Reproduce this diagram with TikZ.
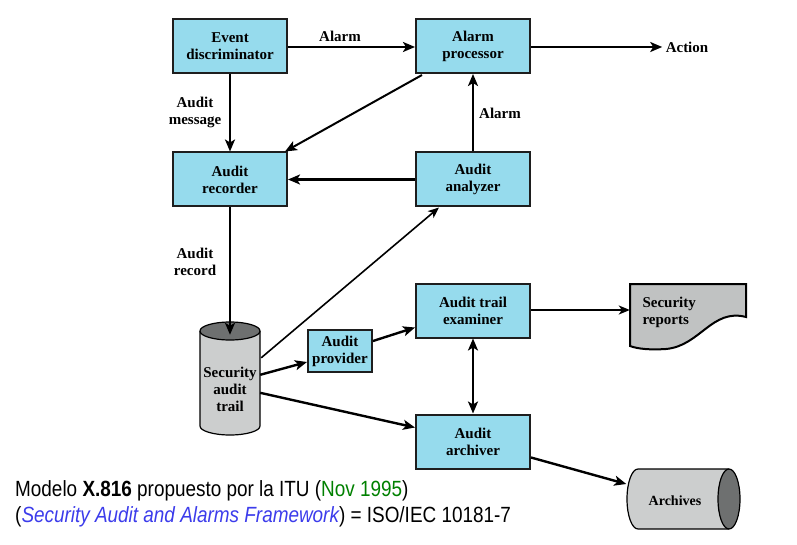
\documentclass[tikz,border=0pt]{standalone}
\usepackage{fontspec}
\setmainfont{Liberation Serif}
\newfontfamily\arialn[FakeStretch=0.86]{Liberation Sans}
\usetikzlibrary{arrows.meta,calc}
\definecolor{boxblue}{RGB}{150,219,237}
\definecolor{bordc}{RGB}{30,30,30}
\definecolor{cylgray}{RGB}{204,206,206}
\definecolor{cyldark}{RGB}{110,112,112}
\definecolor{repgray}{RGB}{192,194,194}
\definecolor{itugreen}{RGB}{0,128,0}
\definecolor{itublue}{RGB}{60,60,235}
\tikzset{
  box/.style={draw=bordc, line width=2pt, fill=boxblue, align=center,
    minimum width=114, minimum height=54, inner sep=1pt,
    font=\fontsize{15}{17}\selectfont\bfseries},
  lbl/.style={align=center, font=\fontsize{15}{17}\selectfont\bfseries},
  arr/.style={line width=2.4pt, -{Stealth[length=12pt,width=10pt,inset=3pt]}},
  tarr/.style={line width=1.6pt, -{Stealth[length=11pt,width=9pt,inset=3pt]}},
  darr/.style={line width=2.4pt, {Stealth[length=12pt,width=10pt,inset=3pt]}-{Stealth[length=12pt,width=10pt,inset=3pt]}},
}
\begin{document}
\begin{tikzpicture}[x=1pt,y=-1pt]
\useasboundingbox (0,0) rectangle (797,545);

% boxes
\node[box] (ed) at (230,46) {Event\\discriminator};
\node[box] (ap) at (473,46) {Alarm\\processor};
\node[box] (rec) at (230,179.5) {Audit\\recorder};
\node[box] (an) at (473,179.5) {Audit\\analyzer};
\node[box] (ex) at (473,310.5) {Audit trail\\examiner};
\node[box] (arc) at (473,441.5) {Audit\\archiver};
\node[box, minimum width=64, minimum height=42] (prov) at (340,351) {Audit\\provider};

% security audit trail cylinder
\draw[line width=1.2pt, fill=cylgray] (200,331) -- (200,426) arc[start angle=180, end angle=0, x radius=30, y radius=9] -- (260,331);
\draw[line width=1.2pt, fill=cyldark] (230,331) ellipse[x radius=30, y radius=9];
\node[minimum width=60, minimum height=104, inner sep=0pt] (trail) at (230,383) {};
\node[lbl] at (230,389) {Security\\audit\\trail};

% archives cylinder
\draw[line width=1.2pt, fill=cylgray] (729,469) -- (638,469) arc[start angle=270, end angle=90, x radius=11, y radius=30] -- (729,529);
\draw[line width=1.2pt, fill=cyldark] (729,499) ellipse[x radius=11, y radius=30];
\node[minimum width=113, minimum height=60, inner sep=0pt] (arch) at (683,499) {};
\node[font=\fontsize{14}{16}\selectfont\bfseries] at (675,501) {Archives};

% security reports
\draw[line width=2pt, fill=repgray] (630,284) -- (746,284) -- (746,317)
  .. controls (712,308) and (700,346) .. (666,349)
  .. controls (650,350) and (638,349) .. (630,346) -- cycle;
\node[minimum width=116, minimum height=66, inner sep=0pt] (rep) at (688,317) {};
\node[lbl, align=left, anchor=west] at (639,312) {Security\\reports};

% action
\node[lbl] (act) at (687,47) {Action};

% connectors
\draw[arr] (ed.east |- 0,47) -- (ap.west |- 0,47);
\node[lbl] at (340,36) {Alarm};
\draw[arr] (ap.east |- 0,47) -- (act.west);
\draw[arr] (ed.south) -- (rec.north);
\node[lbl] at (195,112) {Audit\\message};
\draw[line width=2pt, -{Stealth[length=12pt,width=10pt,inset=3pt]}] ($(ap.south west)+(7,1)$) -- ($(rec.north east)+(-3,0)$);
\draw[arr] (an.west) -- (rec.east);
\draw[arr] (an.north) -- (ap.south);
\node[lbl] at (500,113) {Alarm};
\draw[arr] (rec.south) -- ($(trail.north)+(0,4)$);
\node[lbl] at (195,262) {Audit\\record};
\draw[tarr] ($(trail.north east)+(1,27)$) -- ($(an.south west)+(24,0)$);
\draw[arr] ($(trail.north east)+(0,44)$) -- ($(prov.west)+(0,11)$);
\draw[arr] ($(prov.east)+(0,-10)$) -- ($(ex.west)+(0,17)$);
\draw[arr] ($(trail.north east)+(0,62)$) -- ($(arc.west)+(0,-14)$);
\draw[darr] (ex.south) -- (arc.north);
\draw[line width=1.6pt, -{Stealth[length=11pt,width=9pt,inset=3pt]}] (ex.east |- 0,310) -- (rep.west |- 0,310);
\draw[arr] ($(arc.east)+(0,16)$) -- ($(arch.west)+(0,-15)$);

% caption
\node[anchor=base west, inner sep=0pt, font=\arialn\fontsize{22}{25}\selectfont] (cap1) at (15,496)
  {Modelo \textbf{X.816} propuesto por la ITU (\textcolor{itugreen}{Nov 1995})};
\node[anchor=base west, inner sep=0pt, font=\arialn\fontsize{22}{25}\selectfont] (cap2) at (15,522)
  {(\textcolor{itublue}{\itshape Security Audit and Alarms Framework}) = ISO/IEC 10181-7};
\end{tikzpicture}
\end{document}
